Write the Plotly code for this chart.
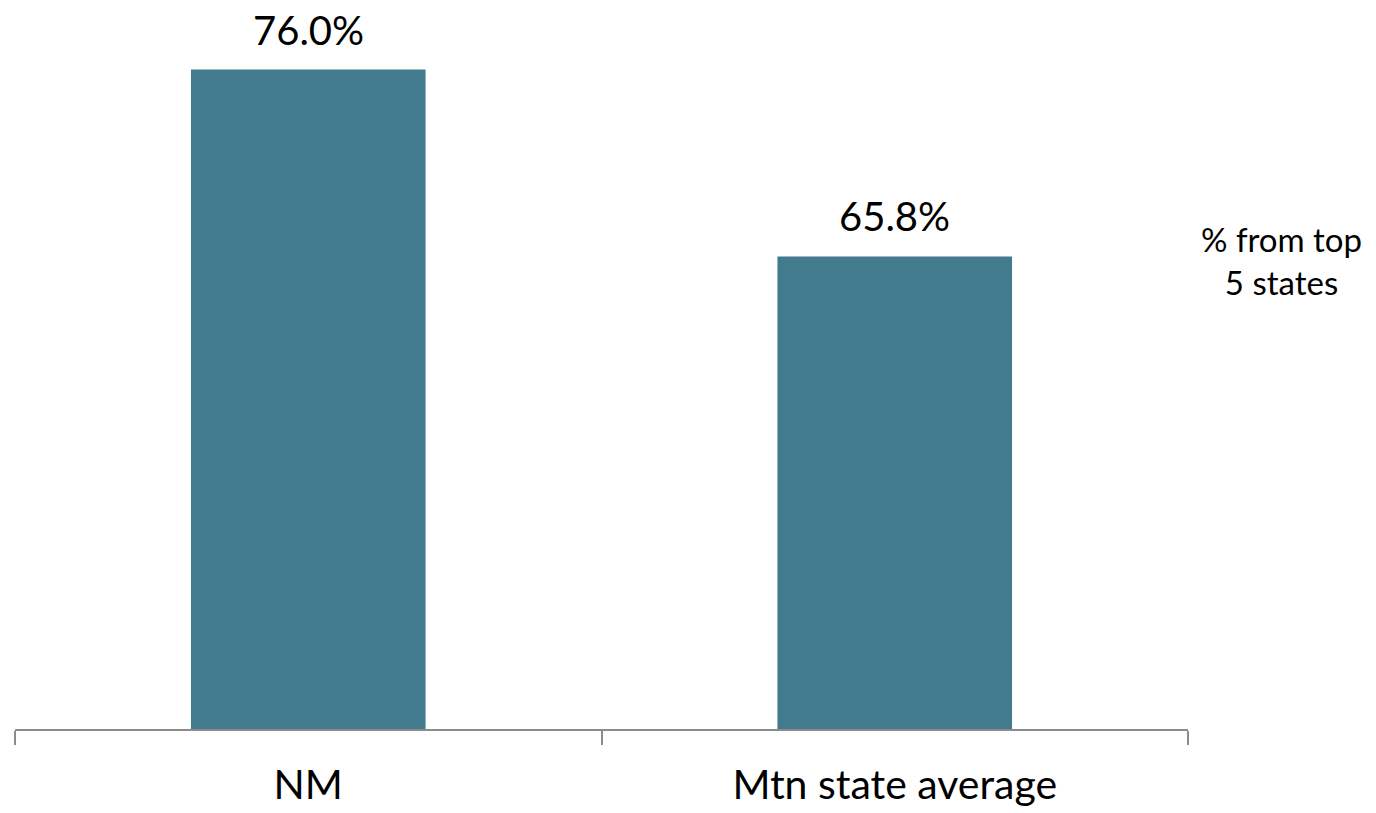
import plotly.graph_objects as go

categories = ["NM", "Mtn state average"]
values = [76.0, 65.8]
series_name = "% from top<br>5 states"

bar_color = "#417B8D"
axis_color = "#8C8C8C"
font_family = "Lato, 'Open Sans', sans-serif"

fig = go.Figure()
fig.add_trace(go.Bar(
    x=categories,
    y=values,
    marker=dict(color=bar_color, line=dict(width=0)),
    width=0.4,
    showlegend=False,
    hoverinfo="skip",
))

# value labels above each bar
for cat, val in zip(categories, values):
    fig.add_annotation(
        x=cat, y=val, text=f"{val:.1f}%",
        showarrow=False, yanchor="middle", yshift=40,
        font=dict(family=font_family, size=40, color="#000000"),
    )

# series label on the right
fig.add_annotation(
    xref="paper", yref="paper", x=1.08, y=0.642,
    text=series_name, showarrow=False, align="center",
    xanchor="center", yanchor="middle",
    font=dict(family=font_family, size=33, color="#000000"),
)

fig.update_layout(
    width=1376, height=813,
    margin=dict(l=15, r=188, t=0, b=84),
    paper_bgcolor="white", plot_bgcolor="white",
    bargap=0.6,
)
fig.update_xaxes(
    showline=True, linecolor=axis_color, linewidth=1.5,
    ticks="outside", tickson="boundaries", ticklen=14,
    tickcolor=axis_color, tickwidth=1.5,
    tickfont=dict(family=font_family, size=41, color="#000000"),
    ticklabelstandoff=19,
    showgrid=False,
)
fig.update_yaxes(
    range=[40, 79.8], visible=False, showgrid=False, zeroline=False,
)

fig.write_html("out.html")
